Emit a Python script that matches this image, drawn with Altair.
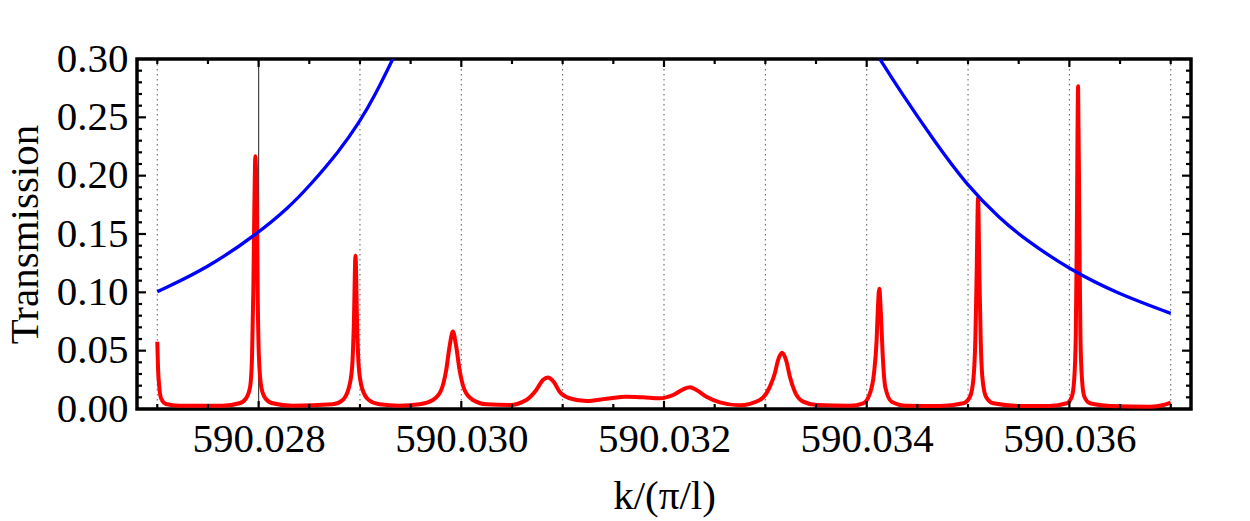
import altair as alt
import pandas as pd

# Transmission spectrum (red curve): wavenumber k in units of pi/l, transmission T
red_k = [
    590.027000, 590.027008, 590.027020, 590.027037, 590.027086, 590.027217,
    590.027645, 590.027810, 590.027876, 590.027916, 590.027935, 590.027948,
    590.027958, 590.027968, 590.027981, 590.027990, 590.028003, 590.028026,
    590.028066, 590.028138, 590.028336,
    590.028731, 590.028830, 590.028889, 590.028923, 590.028939, 590.028956,
    590.028972, 590.028988, 590.029021, 590.029087, 590.029193, 590.029390,
    590.029588, 590.029719, 590.029802, 590.029851, 590.029884, 590.029917,
    590.029950, 590.029983, 590.030032, 590.030115, 590.030246,
    590.030477, 590.030641, 590.030740, 590.030805, 590.030855, 590.030911,
    590.030970, 590.031069, 590.031234, 590.031432, 590.031629, 590.031793,
    590.031958, 590.032090, 590.032189, 590.032255, 590.032321, 590.032419,
    590.032551, 590.032748,
    590.032946, 590.033044, 590.033094, 590.033126, 590.033166, 590.033209,
    590.033242, 590.033291, 590.033373, 590.033505, 590.033834,
    590.033966, 590.034032, 590.034072, 590.034098, 590.034111, 590.034124,
    590.034140, 590.034157, 590.034183, 590.034246, 590.034394,
    590.034723, 590.034953, 590.035019, 590.035052, 590.035072, 590.035085,
    590.035099, 590.035112, 590.035125, 590.035144, 590.035177, 590.035249,
    590.035514,
    590.035800, 590.035975, 590.036024, 590.036047, 590.036063, 590.036073,
    590.036086, 590.036099, 590.036109, 590.036125, 590.036148, 590.036204,
    590.036403, 590.036798, 590.036929, 590.037000,
]
red_t = [
    0.0576, 0.0340, 0.0190, 0.0092, 0.0043, 0.0028,
    0.0028, 0.0049, 0.0092, 0.0190, 0.0448, 0.1020,
    0.1730, 0.2167, 0.1730, 0.1020, 0.0448, 0.0190,
    0.0092, 0.0049, 0.0028,
    0.0040, 0.0077, 0.0177, 0.0362, 0.0705, 0.1316,
    0.0705, 0.0362, 0.0177, 0.0077, 0.0040, 0.0028,
    0.0040, 0.0077, 0.0163, 0.0334, 0.0534, 0.0665,
    0.0534, 0.0334, 0.0163, 0.0077, 0.0040,
    0.0034, 0.0077, 0.0163, 0.0248, 0.0271, 0.0234,
    0.0148, 0.0092, 0.0068, 0.0088, 0.0105, 0.0100,
    0.0092, 0.0120, 0.0169, 0.0186, 0.0163, 0.0105,
    0.0057, 0.0032,
    0.0077, 0.0190, 0.0306, 0.0420, 0.0482, 0.0405,
    0.0277, 0.0148, 0.0063, 0.0034, 0.0028,
    0.0049, 0.0134, 0.0306, 0.0590, 0.0876, 0.1030,
    0.0820, 0.0477, 0.0190, 0.0063, 0.0028,
    0.0026, 0.0049, 0.0105, 0.0248, 0.0590, 0.1160,
    0.1807, 0.1160, 0.0590, 0.0248, 0.0105, 0.0049,
    0.0026,
    0.0026, 0.0049, 0.0105, 0.0248, 0.0620, 0.1476,
    0.2766, 0.1476, 0.0620, 0.0248, 0.0105, 0.0049,
    0.0026, 0.0020, 0.0034, 0.0054,
]

# Envelope (blue curve), two branches on either side of the gap
blue_left_k = [590.027000, 590.027500, 590.028000, 590.028300, 590.028500,
               590.028800, 590.029000, 590.029150, 590.029330]
blue_left_t = [0.1005, 0.1210, 0.1510, 0.1730, 0.1910,
               0.2215, 0.2465, 0.2690, 0.3010]
blue_right_k = [590.034130, 590.034330, 590.034660, 590.034990,
                590.035320, 590.035550, 590.036000, 590.036470, 590.037000]
blue_right_t = [0.3000, 0.2725, 0.2305, 0.1915,
                0.1628, 0.1462, 0.1196, 0.0991, 0.0820]

# Axis ticks and guide lines
x_labels = [590.028, 590.030, 590.032, 590.034, 590.036]
x_minor = [590.027, 590.0275, 590.0285, 590.029, 590.0295, 590.0305, 590.031,
           590.0315, 590.0325, 590.033, 590.0335, 590.0345, 590.035, 590.0355,
           590.0365, 590.037]
y_labels = [0.00, 0.05, 0.10, 0.15, 0.20, 0.25, 0.30]
y_major = [0.05, 0.10, 0.15, 0.20, 0.25]
y_minor = [0.01, 0.02, 0.03, 0.04, 0.06, 0.07, 0.08, 0.09, 0.11, 0.12, 0.13,
           0.14, 0.16, 0.17, 0.18, 0.19, 0.21, 0.22, 0.23, 0.24, 0.26, 0.27,
           0.28, 0.29]
grid_k = [590.027, 590.029, 590.030, 590.031, 590.032, 590.033, 590.034,
          590.035, 590.036, 590.037]
marker_k = [590.028]

W, H = 1054, 350
FONT = "Liberation Serif"

red_df = pd.DataFrame({"k": red_k, "t": red_t})
blue_df = pd.concat([
    pd.DataFrame({"k": blue_left_k, "t": blue_left_t, "branch": "left"}),
    pd.DataFrame({"k": blue_right_k, "t": blue_right_t, "branch": "right"}),
])

x_axis = alt.Axis(values=x_labels, format=".3f", grid=False, ticks=False,
                  tickSize=0, domain=False, labelFont=FONT, labelFontSize=41,
                  labelColor="black", labelPadding=10, labelFlush=False,
                  title="k/(π/l)", titleFont=FONT, titleFontSize=41,
                  titleFontWeight="normal", titleColor="black",
                  titleBaseline="alphabetic", titleY=99, titleX=W / 2,
                  titleAlign="center")
y_axis = alt.Axis(values=y_labels, format=".2f", grid=False, ticks=False,
                  tickSize=0, domain=False, labelFont=FONT, labelFontSize=41,
                  labelColor="black", labelPadding=9, labelFlush=False,
                  labelBaseline="middle",
                  title="Transmission", titleFont=FONT, titleFontSize=41,
                  titleFontWeight="normal", titleColor="black",
                  titleAngle=270, titleBaseline="alphabetic", titleAlign="center",
                  titleX=-100, titleY=H / 2)

x_scale = alt.Scale(domain=[590.0268, 590.0372], nice=False, zero=False)
y_scale = alt.Scale(domain=[0, 0.3], nice=False, zero=False)

x_enc = alt.X("k:Q", scale=x_scale, axis=x_axis)
y_enc = alt.Y("t:Q", scale=y_scale, axis=y_axis)

grid = alt.Chart(pd.DataFrame({"k": grid_k})).mark_rule(
    color="#5a5a5a", strokeWidth=1, strokeDash=[1.5, 3.5]
).encode(x=x_enc)

marker = alt.Chart(pd.DataFrame({"k": marker_k})).mark_rule(
    color="#444444", strokeWidth=1.2
).encode(x=x_enc)

red = alt.Chart(red_df).mark_line(
    color="#ff0000", strokeWidth=4, interpolate="monotone", clip=True,
    strokeJoin="round"
).encode(x=x_enc, y=y_enc, order="k:Q")

blue = alt.Chart(blue_df).mark_line(
    color="#0000ff", strokeWidth=3.3, interpolate="basis", clip=True
).encode(x=x_enc, y=y_enc, detail="branch:N", order="k:Q")


def xticks(values, length):
    df = pd.DataFrame({"k": values})
    bottom = alt.Chart(df).mark_rule(color="black", strokeWidth=2.2).encode(
        x=x_enc, y=alt.value(H), y2=alt.value(H - length))
    top = alt.Chart(df).mark_rule(color="black", strokeWidth=2.2).encode(
        x=x_enc, y=alt.value(0), y2=alt.value(length))
    return [bottom, top]


def yticks(values, length):
    df = pd.DataFrame({"t": values})
    left = alt.Chart(df).mark_rule(color="black", strokeWidth=2.2).encode(
        y=y_enc, x=alt.value(0), x2=alt.value(length))
    right = alt.Chart(df).mark_rule(color="black", strokeWidth=2.2).encode(
        y=y_enc, x=alt.value(W), x2=alt.value(W - length))
    return [left, right]


layers = [grid, marker, red, blue]
layers += xticks(x_labels, 8) + xticks(x_minor, 5)
layers += yticks(y_major, 9) + yticks(y_minor, 5)

chart = alt.layer(*layers).properties(
    width=W, height=H,
    autosize=alt.AutoSizeParams(type="none"),
    padding={"left": 137, "top": 59, "right": 59, "bottom": 112},
    background="white",
).configure_view(stroke="black", strokeWidth=3.5)

chart.save("out.html", embed_options={"renderer": "svg", "actions": False})
